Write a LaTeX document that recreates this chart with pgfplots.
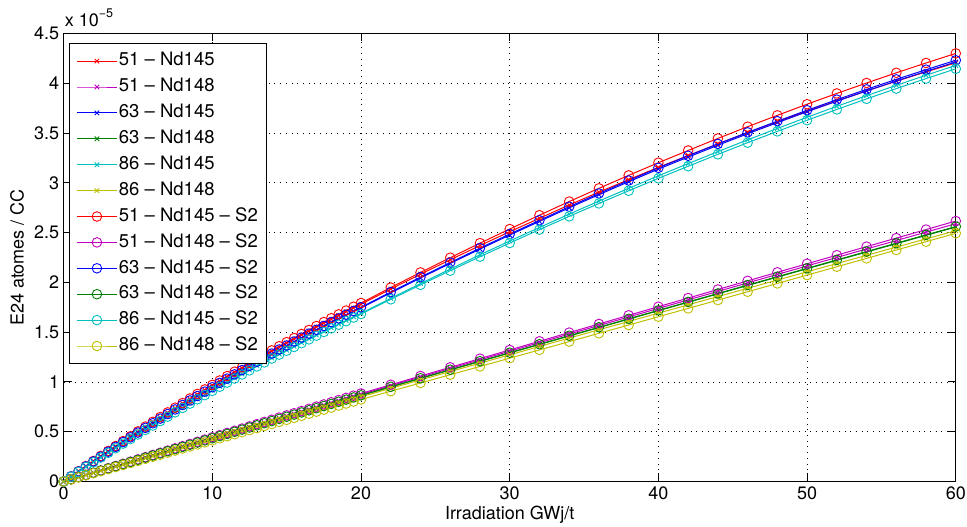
\documentclass[border=0pt]{standalone}
\usepackage{fontspec}
\setmainfont{TeX Gyre Heros}
\usepackage{pgfplots}
\pgfplotsset{compat=1.18}
\usepackage{pgfplotstable}
\definecolor{mred}{rgb}{1,0,0}
\definecolor{mmag}{rgb}{0.75,0,0.75}
\definecolor{mblue}{rgb}{0,0,1}
\definecolor{mgreen}{rgb}{0,0.5,0}
\definecolor{mcyan}{rgb}{0,0.75,0.75}
\definecolor{myel}{rgb}{0.75,0.75,0}
% values in units of 1e-5 atoms/cc
\pgfplotstableread{
x rx mx bx gx cx yx rs ms bs gs cs ys
0 0 0 0 0 0 0 0 0 0 0 0 0
0.5 .0516 .0220 .0505 .0217 .0490 .0214 .0520 .0222 .0508 .0217 .0488 .0207
1 .1029 .0441 .1007 .0435 .0976 .0429 .1036 .0445 .1011 .0436 .0972 .0415
1.5 .1538 .0660 .1506 .0652 .1459 .0642 .1549 .0667 .1512 .0653 .1453 .0622
2 .2044 .0880 .2000 .0869 .1939 .0856 .2058 .0889 .2009 .0870 .1930 .0829
2.5 .2545 .1101 .2491 .1086 .2414 .1071 .2563 .1112 .2501 .1089 .2404 .1036
3 .3043 .1321 .2978 .1303 .2886 .1285 .3064 .1334 .2990 .1306 .2874 .1243
3.5 .3537 .1540 .3462 .1520 .3355 .1498 .3562 .1556 .3477 .1523 .3341 .1450
4 .4028 .1760 .3942 .1737 .3821 .1712 .4056 .1778 .3959 .1741 .3805 .1657
4.5 .4515 .1979 .4420 .1953 .4283 .1925 .4547 .1999 .4438 .1957 .4265 .1863
5 .4999 .2199 .4893 .2170 .4742 .2139 .5034 .2221 .4913 .2174 .4722 .2070
5.5 .5478 .2419 .5363 .2387 .5197 .2353 .5517 .2443 .5385 .2392 .5175 .2277
6 .5954 .2638 .5828 .2604 .5648 .2566 .5996 .2665 .5852 .2609 .5624 .2484
6.5 .6427 .2857 .6291 .2820 .6097 .2779 .6472 .2886 .6317 .2825 .6071 .2690
7 .6895 .3077 .6749 .3037 .6541 .2993 .6944 .3108 .6777 .3043 .6513 .2897
7.5 .7361 .3296 .7205 .3252 .6983 .3206 .7413 .3329 .7235 .3259 .6953 .3103
8 .7823 .3515 .7657 .3468 .7421 .3419 .7878 .3550 .7689 .3475 .7390 .3309
8.5 .8281 .3734 .8106 .3685 .7855 .3632 .8339 .3772 .8139 .3693 .7822 .3516
9 .8734 .3953 .8550 .3901 .8286 .3845 .8796 .3993 .8585 .3909 .8251 .3721
9.5 .9185 .4172 .8991 .4117 .8714 .4058 .9250 .4214 .9028 .4126 .8677 .3927
10 .9632 .4391 .9428 .4333 .9137 .4271 .9700 .4435 .9467 .4342 .9099 .4133
10.5 1.0075 .4609 .9862 .4549 .9558 .4484 1.0146 .4656 .9902 .4558 .9517 .4339
11 1.0515 .4828 1.0293 .4765 .9975 .4697 1.0589 .4877 1.0335 .4775 .9932 .4545
11.5 1.0951 .5047 1.0719 .4981 1.0388 .4909 1.1028 .5098 1.0763 .4991 1.0344 .4751
12 1.1384 .5265 1.1143 .5196 1.0799 .5121 1.1464 .5318 1.1189 .5206 1.0753 .4956
12.5 1.1812 .5484 1.1562 .5412 1.1205 .5334 1.1895 .5539 1.1610 .5423 1.1157 .5162
13 1.2237 .5702 1.1978 .5628 1.1608 .5547 1.2323 .5760 1.2027 .5639 1.1559 .5368
13.5 1.2659 .5920 1.2391 .5842 1.2009 .5759 1.2748 .5980 1.2442 .5854 1.1958 .5573
14 1.3076 .6139 1.2799 .6058 1.2404 .5972 1.3168 .6201 1.2852 .6071 1.2352 .5779
14.5 1.3490 .6357 1.3205 .6273 1.2797 .6183 1.3585 .6421 1.3259 .6286 1.2743 .5984
15 1.3901 .6575 1.3607 .6488 1.3187 .6395 1.3999 .6641 1.3663 .6502 1.3131 .6189
15.5 1.4307 .6792 1.4005 .6703 1.3572 .6607 1.4408 .6861 1.4062 .6717 1.3515 .6394
16 1.4710 .7011 1.4399 .6919 1.3955 .6820 1.4814 .7082 1.4458 .6933 1.3896 .6600
16.5 1.5110 .7229 1.4791 .7134 1.4334 .7032 1.5217 .7302 1.4852 .7149 1.4274 .6805
17 1.5506 .7447 1.5178 .7349 1.4709 .7244 1.5615 .7522 1.5240 .7364 1.4647 .7011
17.5 1.5898 .7665 1.5562 .7564 1.5081 .7456 1.6010 .7742 1.5626 .7579 1.5017 .7216
18 1.6287 .7881 1.5943 .7778 1.5451 .7666 1.6402 .7961 1.6008 .7794 1.5385 .7420
18.5 1.6671 .8099 1.6319 .7993 1.5815 .7878 1.6789 .8181 1.6386 .8009 1.5748 .7625
19 1.7053 .8317 1.6692 .8208 1.6177 .8090 1.7173 .8401 1.6761 .8225 1.6108 .7830
19.5 1.7430 .8534 1.7062 .8422 1.6535 .8301 1.7553 .8620 1.7132 .8439 1.6465 .8034
20 1.7804 .8752 1.7428 .8637 1.6890 .8513 1.7930 .8840 1.7500 .8654 1.6818 .8239
22 1.9329 .9620 1.8950 .9494 1.8395 .9358 1.948 .9717 1.9028 .9513 1.8298 .9066
24 2.0822 1.0488 2.0446 1.0350 1.9879 1.0202 2.100 1.0594 2.0530 1.0372 1.9753 .9896
26 2.2272 1.1354 2.1904 1.1205 2.1331 1.1045 2.248 1.1469 2.1994 1.1228 2.1174 1.0725
28 2.3701 1.2219 2.3346 1.2058 2.2772 1.1885 2.394 1.2342 2.3442 1.2083 2.2580 1.1555
30 2.5087 1.3083 2.4751 1.2911 2.4155 1.2726 2.536 1.3215 2.4853 1.2937 2.3953 1.2386
32 2.6442 1.3945 2.6129 1.3762 2.5514 1.3565 2.675 1.4086 2.6236 1.3790 2.5300 1.3217
34 2.7776 1.4807 2.7490 1.4613 2.6857 1.4404 2.812 1.4957 2.7603 1.4643 2.6632 1.4050
36 2.9067 1.5668 2.8814 1.5462 2.8166 1.5240 2.945 1.5826 2.8932 1.5494 2.7930 1.4883
38 3.0327 1.6526 3.0110 1.6309 2.9449 1.6075 3.075 1.6693 3.0233 1.6342 2.9203 1.5716
40 3.1556 1.7384 3.1380 1.7156 3.0707 1.6910 3.202 1.7560 3.1508 1.7191 3.0451 1.6550
42 3.2743 1.8241 3.2585 1.8001 3.1930 1.7743 3.325 1.8425 3.2718 1.8038 3.1664 1.7385
44 3.3909 1.9097 3.3771 1.8846 3.3137 1.8576 3.446 1.9290 3.3909 1.8885 3.2861 1.8221
46 3.5043 1.9951 3.4927 1.9690 3.4318 1.9407 3.564 2.0153 3.5070 1.9730 3.4033 1.9058
48 3.6136 2.0804 3.6044 2.0531 3.5463 2.0237 3.678 2.1014 3.6192 2.0573 3.5169 1.9894
50 3.7208 2.1656 3.7142 2.1372 3.6592 2.1066 3.790 2.1875 3.7294 2.1416 3.6289 2.0732
52 3.8239 2.2507 3.8200 2.2211 3.7686 2.1893 3.898 2.2734 3.8356 2.2257 3.7374 2.1570
54 3.9239 2.3357 3.9229 2.3050 3.8753 2.2720 4.003 2.3593 3.9390 2.3098 3.8433 2.2410
56 4.0208 2.4206 4.0229 2.3888 3.9794 2.3545 4.105 2.4450 4.0393 2.3937 3.9465 2.3250
58 4.1147 2.5052 4.1199 2.4723 4.0808 2.4369 4.204 2.5305 4.1367 2.4774 4.0472 2.4089
60 4.2054 2.5898 4.2140 2.5558 4.1796 2.5192 4.300 2.6160 4.2312 2.5611 4.1452 2.4930
}\data

\begin{document}
\begin{tikzpicture}
\begin{axis}[
  scale only axis, width=892.2pt, height=448pt,
  xmin=0, xmax=60, ymin=0, ymax=4.5,
  xtick={0,10,20,30,40,50,60},
  ytick={0,0.5,1,1.5,2,2.5,3,3.5,4,4.5},
  grid=major,
  major grid style={black, line width=0.7pt, dash pattern=on 0.8pt off 4.9pt},
  tick align=inside, major tick length=8pt,
  axis line style={black, line width=1pt},
  every tick/.style={black, line width=1pt},
  /pgf/number format/assume math mode=true,
  tick label style={font=\fontsize{18}{20}\selectfont},
  xticklabel style={yshift=-2pt},
  yticklabel style={xshift=-1pt},
  xlabel={Irradiation GWj/t},
  ylabel={E24 atomes / CC},
  label style={font=\fontsize{18}{20}\selectfont},
  xlabel style={at={(axis description cs:0.5,0)}, anchor=center, yshift=-33.5pt},
  ylabel style={at={(axis description cs:-0.0522,0.5)}, anchor=center},
  clip=false,
  every axis plot/.append style={line width=1pt, mark options={solid, line width=0.9pt}},
  legend cell align=left,
  legend image code/.code={\draw[mark repeat=2, mark phase=2] plot coordinates {(0pt,0pt) (20pt,0pt) (40pt,0pt)};},
  legend style={at={(axis description cs:0.006,0.978)}, anchor=north west,
    draw=black, line width=1pt, fill=white,
    font=\fontsize{18.5}{21}\selectfont,
    nodes={inner sep=1.5pt, text height=13.5pt, text depth=4pt},
    row sep=5.4pt, inner xsep=7pt, inner ysep=7pt},
]
\addplot[color=mred, mark=x, mark size=3.2pt] table[x=x, y=rx] {\data};
\addlegendentry{51 – Nd145}
\addplot[color=mmag, mark=x, mark size=3.2pt] table[x=x, y=mx] {\data};
\addlegendentry{51 – Nd148}
\addplot[color=mblue, mark=x, mark size=3.2pt] table[x=x, y=bx] {\data};
\addlegendentry{63 – Nd145}
\addplot[color=mgreen, mark=x, mark size=3.2pt] table[x=x, y=gx] {\data};
\addlegendentry{63 – Nd148}
\addplot[color=mcyan, mark=x, mark size=3.2pt] table[x=x, y=cx] {\data};
\addlegendentry{86 – Nd145}
\addplot[color=myel, mark=x, mark size=3.2pt] table[x=x, y=yx] {\data};
\addlegendentry{86 – Nd148}
\addplot[color=mred, mark=o, mark size=4.8pt] table[x=x, y=rs] {\data};
\addlegendentry{51 – Nd145 – S2}
\addplot[color=mmag, mark=o, mark size=4.8pt] table[x=x, y=ms] {\data};
\addlegendentry{51 – Nd148 – S2}
\addplot[color=mblue, mark=o, mark size=4.8pt] table[x=x, y=bs] {\data};
\addlegendentry{63 – Nd145 – S2}
\addplot[color=mgreen, mark=o, mark size=4.8pt] table[x=x, y=gs] {\data};
\addlegendentry{63 – Nd148 – S2}
\addplot[color=mcyan, mark=o, mark size=4.8pt] table[x=x, y=cs] {\data};
\addlegendentry{86 – Nd145 – S2}
\addplot[color=myel, mark=o, mark size=4.8pt] table[x=x, y=ys] {\data};
\addlegendentry{86 – Nd148 – S2}
\node[anchor=base west, inner sep=0pt, font=\fontsize{18}{20}\selectfont]
  at (rel axis cs:0,1) [yshift=6.8pt, xshift=1pt]
  {x 10\raisebox{0.5em}{\fontsize{12.5}{13}\selectfont −5}};
\end{axis}
\pgfresetboundingbox
\path[use as bounding box] (-63.6pt,-45.5pt) rectangle (903.4pt,481.5pt);
\end{tikzpicture}
\end{document}
